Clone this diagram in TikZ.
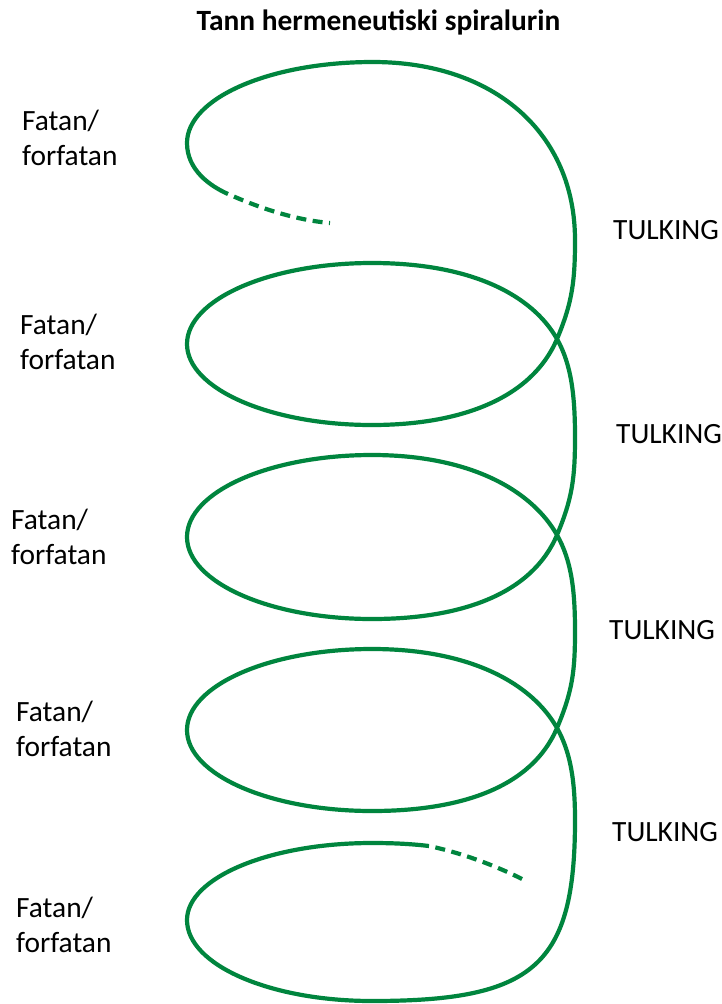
\documentclass[tikz,border=0pt]{standalone}
\usepackage{fontspec}
\setmainfont{Carlito}
\definecolor{spiral}{RGB}{0,133,62}
\begin{document}
\begin{tikzpicture}[x=1pt,y=-1pt,
  curve/.style={draw=spiral,line width=4.2pt,line cap=butt},
  dashcurve/.style={curve,dash pattern=on 10pt off 6.5pt,dash phase=10pt},
  lbl/.style={anchor=base west,inner sep=0pt,align=left,font=\fontsize{29.4}{35}\selectfont},
  tlbl/.style={anchor=base west,inner sep=0pt,font=\fontsize{29.4}{35}\selectfont},
  ttl/.style={anchor=base,inner sep=0pt,font=\bfseries\fontsize{29.4}{35}\selectfont}]
\useasboundingbox (0,0) rectangle (721,1004);
\fill[white] (0,0) rectangle (721,1004);

\node[ttl] (title) at (378.5,30) {Tann hermeneutiski spiralurin};

% anchors at the baseline of the second line
\node[lbl] (f1) at (22,165) {Fatan/\\forfatan};
\node[lbl] (f2) at (20,369) {Fatan/\\forfatan};
\node[lbl] (f3) at (11,564) {Fatan/\\forfatan};
\node[lbl] (f4) at (16,756) {Fatan/\\forfatan};
\node[lbl] (f5) at (16,952) {Fatan/\\forfatan};

\node[tlbl] (t1) at (613,239) {TULKING};
\node[tlbl] (t2) at (616,443) {TULKING};
\node[tlbl] (t3) at (609,639) {TULKING};
\node[tlbl] (t4) at (612,841) {TULKING};

% dashed start
\draw[dashcurve] (228,194) .. controls (262,209) and (296,220) .. (330,223);
% main solid spiral
\draw[curve] (228,194) .. controls (210,186) and (187,170) .. (187,143)
  .. controls (187,98) and (270,62) .. (373,62)
  .. controls (494,62) and (575,133) .. (575,240)
  .. controls (575,280) and (572.6,302) .. (557,339)
  .. controls (531.6,398.8) and (460,425) .. (372,425)
  .. controls (270,425) and (187,388.7) .. (187,344)
  .. controls (187,299.3) and (270,263) .. (372,263)
  .. controls (472,263) and (532.5,295.5) .. (557,339)
  .. controls (571.7,365) and (575,397) .. (575,437)
  .. controls (575,477) and (572.6,498) .. (557,535)
  .. controls (531.6,594.8) and (460,619) .. (372,619)
  .. controls (270,619) and (187,582.3) .. (187,537)
  .. controls (187,491.7) and (270,455) .. (372,455)
  .. controls (472,455) and (532.5,491.5) .. (557,535)
  .. controls (571.7,561) and (575,591) .. (575,631)
  .. controls (575,671) and (572.6,691) .. (557,728)
  .. controls (531.6,787.8) and (460,811) .. (372,811)
  .. controls (270,811) and (187,774.7) .. (187,730)
  .. controls (187,685.3) and (270,649) .. (372,649)
  .. controls (472,649) and (532.5,684.5) .. (557,728)
  .. controls (571.7,754) and (575,785) .. (575,820)
  .. controls (575,966) and (534,1001) .. (372,1001)
  .. controls (270,1001) and (187,965) .. (187,920)
  .. controls (187,877.5) and (270,843) .. (372,843)
  .. controls (395,843) and (412,844) .. (429,846);
% dashed end
\draw[dashcurve] (429,846) .. controls (462,853) and (497,866) .. (526,881);
\end{tikzpicture}
\end{document}
